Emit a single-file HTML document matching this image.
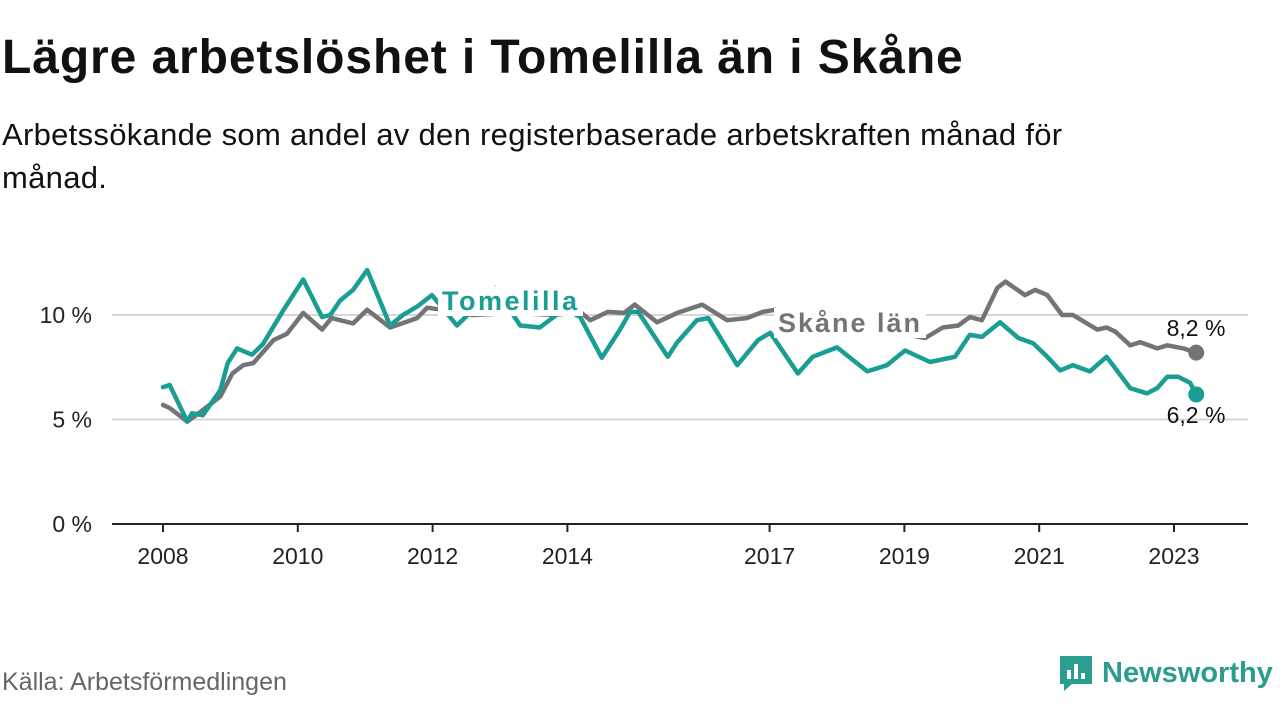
<!DOCTYPE html>
<html><head><meta charset="utf-8"><style>
body{margin:0;width:1280px;height:720px;background:#fff;font-family:"Liberation Sans",sans-serif;position:relative;overflow:hidden}
#title{position:absolute;left:2px;top:34px;font-size:48px;line-height:48px;font-weight:bold;color:#111;margin:0;letter-spacing:0.9px;white-space:nowrap}
#sub{position:absolute;left:2px;top:113px;font-size:31px;color:#111;line-height:43px;width:1170px;letter-spacing:0.3px}
#src{position:absolute;left:2px;top:668px;font-size:25px;color:#666}
#logo{position:absolute;left:1058px;top:654px;display:flex;align-items:center;gap:8px;color:#2a9d8f;font-size:29px;font-weight:bold}
</style></head><body>
<h1 id="title">Lägre arbetslöshet i Tomelilla än i Skåne</h1>
<div id="sub">Arbetssökande som andel av den registerbaserade arbetskraften månad för månad.</div>
<svg id="chart" width="1280" height="720" style="position:absolute;left:0;top:0"></svg>
<div id="src">Källa: Arbetsförmedlingen</div>
<div id="logo"><svg width="36" height="38" viewBox="0 0 36 38"><path d="M2 2h32v28H14l-8 7v-7H2z" fill="#2a9d8f"/><rect x="9" y="16" width="4" height="9" fill="#fff"/><rect x="16" y="10" width="4" height="15" fill="#fff"/><rect x="23" y="19" width="4" height="6" fill="#fff"/></svg><span>Newsworthy</span></div>
<script>
const tomYears=[2008.0,2008.1,2008.36,2008.43,2008.59,2008.85,2008.96,2009.1,2009.32,2009.48,2009.78,2010.08,2010.36,2010.48,2010.63,2010.82,2011.03,2011.37,2011.56,2011.77,2011.99,2012.36,2012.93,2013.3,2013.59,2013.96,2014.19,2014.51,2014.78,2014.93,2015.05,2015.49,2015.63,2015.92,2016.09,2016.52,2016.83,2017.01,2017.42,2017.64,2018.0,2018.45,2018.74,2019.01,2019.38,2019.75,2019.97,2020.15,2020.42,2020.69,2020.91,2021.12,2021.31,2021.5,2021.75,2022.0,2022.35,2022.6,2022.75,2022.9,2023.06,2023.24,2023.33];
const tomValues=[6.55,6.65,4.9,5.3,5.2,6.4,7.7,8.4,8.1,8.6,10.2,11.7,9.9,10.0,10.7,11.2,12.15,9.5,10.0,10.4,10.95,9.5,11.3,9.5,9.4,10.3,9.9,7.95,9.3,10.15,10.15,8.0,8.7,9.75,9.85,7.6,8.8,9.15,7.2,8.0,8.45,7.3,7.6,8.3,7.75,8.0,9.05,8.95,9.65,8.9,8.65,8.0,7.35,7.6,7.3,8.0,6.5,6.25,6.5,7.05,7.05,6.75,6.2];
const skaYears=[2008.0,2008.1,2008.36,2008.55,2008.85,2009.03,2009.19,2009.34,2009.64,2009.84,2010.08,2010.36,2010.5,2010.82,2011.03,2011.37,2011.77,2011.92,2012.15,2012.6,2013.2,2013.8,2014.19,2014.34,2014.6,2014.84,2015.0,2015.33,2015.63,2016.0,2016.37,2016.66,2016.9,2017.08,2017.6,2018.2,2018.8,2019.31,2019.57,2019.8,2019.97,2020.15,2020.38,2020.5,2020.79,2020.94,2021.12,2021.34,2021.5,2021.86,2022.0,2022.13,2022.35,2022.5,2022.75,2022.9,2023.14,2023.33];
const skaValues=[5.7,5.55,4.9,5.35,6.1,7.2,7.6,7.7,8.8,9.1,10.1,9.3,9.85,9.6,10.25,9.4,9.85,10.35,10.25,10.0,10.1,10.0,10.15,9.75,10.15,10.1,10.5,9.65,10.1,10.5,9.75,9.85,10.15,10.25,9.8,9.5,9.2,8.9,9.4,9.5,9.9,9.75,11.3,11.6,10.95,11.2,10.95,10.0,10.0,9.3,9.4,9.2,8.55,8.7,8.4,8.55,8.4,8.2];
const yTicks=[0,5,10];
const yTickLabels=["0 %","5 %","10 %"];
const xTicks=[2008,2010,2012,2014,2017,2019,2021,2023];
const tomLabel="Tomelilla", skaLabel="Skåne län";
const endTom="6,2 %", endSka="8,2 %";

const NS="http://www.w3.org/2000/svg";
const svg=document.getElementById('chart');
const X=y=>163+(y-2008)*67.4;
const Y=v=>524-v*20.9;
function mk(t,a,p){const e=document.createElementNS(NS,t);for(const k in a)e.setAttribute(k,a[k]);(p||svg).appendChild(e);return e;}
yTicks.forEach((t,i)=>{
  if(t>0){const g=mk('line',{x1:112,x2:1248,y1:Y(t),y2:Y(t),stroke:'#d6d6d6','stroke-width':2});
  
  }
  const tx=mk('text',{x:92,y:Y(t)+8,'text-anchor':'end','font-size':23,fill:'#222'});
  tx.textContent=yTickLabels[i];
  
  
});
const ax=mk('line',{x1:112,x2:1248,y1:524,y2:524,stroke:'#222','stroke-width':2});


xTicks.forEach(t=>{
  const tk=mk('line',{x1:X(t),x2:X(t),y1:524,y2:532,stroke:'#222','stroke-width':2});
  
  
  const tx=mk('text',{x:X(t),y:564,'text-anchor':'middle','font-size':23,fill:'#222'});
  tx.textContent=t;
  
  
});
function line(ys,vs,col,name){
  const d=ys.map((y,i)=>(i?'L':'M')+X(y).toFixed(1)+' '+Y(vs[i]).toFixed(1)).join('');
  const p=mk('path',{d:d,fill:'none',stroke:col,'stroke-width':4.5,'stroke-linejoin':'round','stroke-linecap':'round'});
  
  
}
line(skaYears,skaValues,'#747378','skane-line');
line(tomYears,tomValues,'#1a9e93','tomelilla-line');
function dot(ys,vs,col,name){
  const c=mk('circle',{cx:X(ys[ys.length-1]),cy:Y(vs[vs.length-1]),r:8,fill:col});
  
  
}
dot(skaYears,skaValues,'#747378','skane-end-dot');
dot(tomYears,tomValues,'#1a9e93','tomelilla-end-dot');
function label(txt,x,y,col,name,w){
  mk('rect',{x:x-4,y:y-24,width:w,height:30,fill:'#fff'});
  const t=mk('text',{x:x,y:y,'font-size':27,'font-weight':'bold',fill:col,textLength:w-10});
  t.textContent=txt;
  
  
}
label(tomLabel,442,310,'#1a9e93','tomelilla-label',145);
label(skaLabel,778,332,'#747378','skane-label',152);
const e1=mk('text',{x:1196,y:336,'text-anchor':'middle','font-size':23,fill:'#111'});
e1.textContent=endSka;


const e2=mk('text',{x:1196,y:423,'text-anchor':'middle','font-size':23,fill:'#111'});
e2.textContent=endTom;


</script>
</body></html>
